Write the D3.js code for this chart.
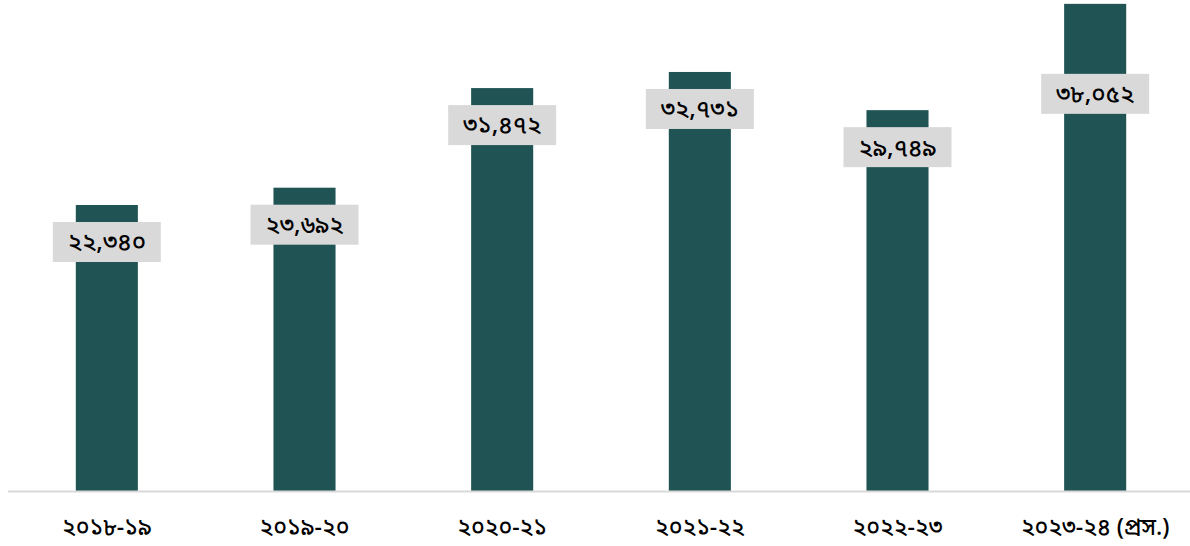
<!DOCTYPE html>
<html lang="bn">
<head>
<meta charset="utf-8"/>
<title>Bar chart</title>
<script src="https://cdnjs.cloudflare.com/ajax/libs/d3/7.8.5/d3.min.js"></script>
<style>
  body { margin: 0; background: #fff; }
  text { font-family: "Noto Sans Bengali", "Noto Serif Bengali", "Lohit Bengali", "FreeSerif", sans-serif; }
</style>
</head>
<body>
<svg id="chart" width="1190" height="546"></svg>
<script>
// chart data
var years = ["২০১৮-১৯", "২০১৯-২০", "২০২০-২১", "২০২১-২২", "২০২২-২৩", "২০২৩-২৪ (প্রস.)"];
var values = [22340, 23692, 31472, 32731, 29749, 38052];
var valueLabels = ["২২,৩৪০", "২৩,৬৯২", "৩১,৪৭২", "৩২,৭৩১", "২৯,৭৪৯", "৩৮,০৫২"];

var svg = d3.select("#chart");
var baseY = 491;

var x = d3.scaleBand()
  .domain(years)
  .range([8, 1194])
  .paddingInner(0.686)
  .paddingOuter(0.343);

var y = d3.scaleLinear()
  .domain([0, 38353])
  .range([baseY, 0]);

// bars
svg.selectAll("rect.bar")
  .data(values)
  .enter().append("rect")
  .attr("class", "bar")
  .attr("x", function(d, i) { return x(years[i]); })
  .attr("y", function(d) { return y(d); })
  .attr("width", x.bandwidth())
  .attr("height", function(d) { return baseY - y(d); })
  .attr("fill", "#1f5354");

// baseline
svg.append("line")
  .attr("x1", 8).attr("x2", 1190)
  .attr("y1", baseY + 0.5).attr("y2", baseY + 0.5)
  .attr("stroke", "#d9d9d9")
  .attr("stroke-width", 2);

// x axis labels
var xAxis = d3.axisBottom(x).tickSize(0).tickPadding(0);
var gx = svg.append("g")
  .attr("transform", "translate(0," + 527 + ")")
  .call(xAxis);
gx.select(".domain").remove();
gx.selectAll("text")
  .attr("dy", "0.35em")
  .attr("font-size", 23)
  .attr("font-weight", 500)
  .attr("fill", "#000");

// data labels with grey boxes
var lbl = svg.selectAll("g.lbl")
  .data(values)
  .enter().append("g")
  .attr("class", "lbl")
  .attr("transform", function(d, i) {
    var cy = y(d) + 37;
    if (i === values.length - 1) cy = y(d) + 90; // last label moved down
    return "translate(" + (x(years[i]) + x.bandwidth() / 2) + "," + cy + ")";
  });

lbl.append("rect")
  .attr("x", -54).attr("y", -20)
  .attr("width", 108).attr("height", 40)
  .attr("fill", "#d9d9d9");

lbl.append("text")
  .attr("text-anchor", "middle")
  .attr("dy", "0.35em")
  .attr("font-size", 24)
  .attr("font-weight", 500)
  .attr("fill", "#000")
  .text(function(d, i) { return valueLabels[i]; });
</script>
</body>
</html>
